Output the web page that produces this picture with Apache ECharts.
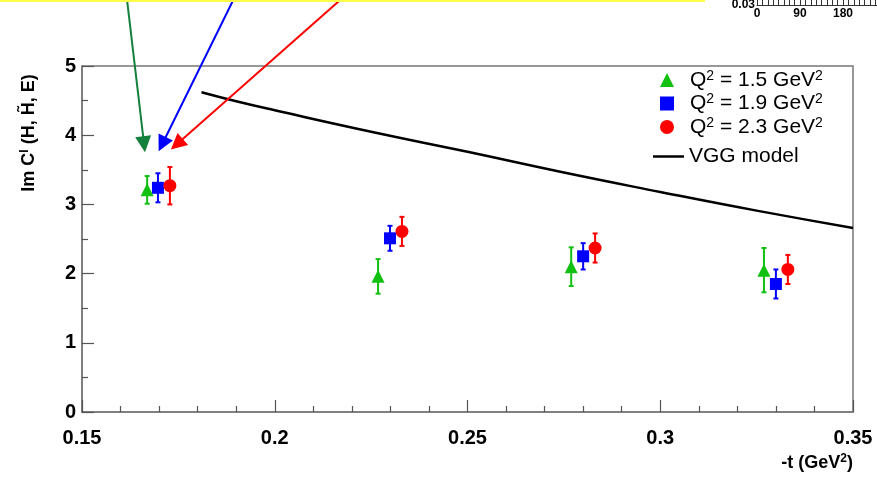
<!DOCTYPE html>
<html>
<head>
<meta charset="utf-8">
<script src="https://cdn.jsdelivr.net/npm/echarts@6/dist/echarts.min.js"></script>
<style>
  html, body { margin: 0; padding: 0; background: #fff; }
  #chart { width: 877px; height: 484px; }
</style>
</head>
<body>
<div id="chart"></div>
<script>
// -t values (GeV^2), Im C^I values and their uncertainties for each Q^2 setting
const tQ15 = [0.1669, 0.2268, 0.2769, 0.3269];
const imQ15 = [3.21, 1.96, 2.10, 2.05];
const errQ15 = [0.20, 0.25, 0.28, 0.32];

const tQ19 = [0.1697, 0.2299, 0.2800, 0.3300];
const imQ19 = [3.24, 2.51, 2.25, 1.85];
const errQ19 = [0.21, 0.18, 0.19, 0.21];

const tQ23 = [0.1728, 0.2330, 0.2831, 0.3331];
const imQ23 = [3.27, 2.61, 2.37, 2.06];
const errQ23 = [0.27, 0.21, 0.21, 0.21];

// VGG model curve
const tVGG = [0.181, 0.19, 0.20, 0.225, 0.25, 0.275, 0.30, 0.325, 0.35];
const imVGG = [4.62, 4.49, 4.36, 4.05, 3.76, 3.46, 3.18, 2.91, 2.66];

// Q^2 values shown in the legend
const q2Labels = ['1.5', '1.9', '2.3'];

// Axis tick values
const xTicks = [0.15, 0.2, 0.25, 0.3, 0.35];
const yTicks = [0, 1, 2, 3, 4, 5];

// Annotation arrows pointing at the first t bin (start and tip in data units)
const arrowStarts = [[0.1617, 5.95], [0.1892, 5.95], [0.2169, 5.95]];
const arrowTips = [[0.1661, 3.87], [0.1708, 3.87], [0.1746, 3.87]];
const arrowColors = ['#13803b', '#0000ff', '#ff0000'];

const FONT = 'Liberation Sans';
const GREEN = '#11c011';
const BLUE = '#0000ff';
const RED = '#ff0000';

function pairs(xs, ys) { return xs.map((x, i) => [x, ys[i]]); }
function triples(xs, ys, es) { return xs.map((x, i) => [x, ys[i], es[i]]); }

function errorBarSeries(data, color) {
  return {
    type: 'custom',
    xAxisIndex: 0, yAxisIndex: 0,
    data: data,
    z: 3,
    renderItem: function (params, api) {
      const x = api.value(0), y = api.value(1), e = api.value(2);
      const lo = api.coord([x, y - e]);
      const hi = api.coord([x, y + e]);
      const cw = 2.5;
      const st = { stroke: color, lineWidth: 2 };
      return {
        type: 'group',
        children: [
          { type: 'line', shape: { x1: lo[0], y1: lo[1], x2: hi[0], y2: hi[1] }, style: st },
          { type: 'line', shape: { x1: lo[0] - cw, y1: lo[1], x2: lo[0] + cw, y2: lo[1] }, style: st },
          { type: 'line', shape: { x1: hi[0] - cw, y1: hi[1], x2: hi[0] + cw, y2: hi[1] }, style: st }
        ]
      };
    }
  };
}

const q2Names = q2Labels.map(v => 'Q2 = ' + v + ' GeV2');

const chart = echarts.init(document.getElementById('chart'), null, { renderer: 'canvas' });

const titleRich = {
  b: { fontFamily: FONT, fontWeight: 'bold', fontSize: 18, fill: '#000', lineHeight: 20 },
  s: { fontFamily: FONT, fontWeight: 'bold', fontSize: 12, fill: '#000', lineHeight: 12, verticalAlign: 'top' }
};

const option = {
  backgroundColor: '#ffffff',
  animation: false,
  textStyle: { fontFamily: FONT },
  grid: [
    {
      left: 82, right: 24, top: 66, bottom: 72,
      outerBoundsMode: 'none',
      show: true, borderColor: '#777777', borderWidth: 1.5, backgroundColor: 'transparent'
    },
    {
      // partial inset panel at the upper right edge
      left: 757, width: 172, top: -60, height: 65,
      outerBoundsMode: 'none',
      show: false
    }
  ],
  xAxis: [
    {
      gridIndex: 0, type: 'value', min: xTicks[0], max: xTicks[xTicks.length - 1], interval: 0.05,
      axisLine: { show: true, onZero: false, lineStyle: { color: '#777777', width: 1.5 } },
      axisTick: { show: true, inside: true, length: 12, lineStyle: { color: '#555555', width: 1.2 } },
      minorTick: { show: true, splitNumber: 5, length: 6, lineStyle: { color: '#555555', width: 1.2 } },
      splitLine: { show: false },
      axisLabel: {
        color: '#000', fontFamily: FONT, fontWeight: 'bold', fontSize: 20, margin: 16,
        formatter: v => String(+v.toFixed(2))
      }
    },
    {
      gridIndex: 1, type: 'value', min: 0, max: 360, interval: 90,
      axisLine: { show: true, onZero: false, lineStyle: { color: '#333', width: 1 } },
      axisTick: { show: true, inside: true, length: 5, lineStyle: { color: '#333', width: 1 } },
      minorTick: { show: true, splitNumber: 8, length: 5, lineStyle: { color: '#333', width: 1 } },
      splitLine: { show: false },
      axisLabel: {
        color: '#000', fontFamily: FONT, fontWeight: 'bold', fontSize: 12, margin: 3,
        formatter: v => (v <= 180 ? String(v) : '')
      }
    }
  ],
  yAxis: [
    {
      gridIndex: 0, type: 'value', min: yTicks[0], max: yTicks[yTicks.length - 1], interval: 1,
      axisLine: { show: true, onZero: false, lineStyle: { color: '#777777', width: 1.5 } },
      axisTick: { show: true, inside: true, length: 12, lineStyle: { color: '#555555', width: 1.2 } },
      minorTick: { show: true, splitNumber: 2, length: 6, lineStyle: { color: '#555555', width: 1.2 } },
      splitLine: { show: false },
      axisLabel: { color: '#000', fontFamily: FONT, fontWeight: 'bold', fontSize: 20, margin: 6 }
    },
    {
      gridIndex: 1, type: 'value', min: 0.03, max: 0.06, interval: 0.01,
      axisLine: { show: true, onZero: false, lineStyle: { color: '#333', width: 1 } },
      axisTick: { show: false },
      splitLine: { show: false },
      axisLabel: {
        color: '#000', fontFamily: FONT, fontWeight: 'bold', fontSize: 12, margin: 2,
        formatter: v => v.toFixed(2)
      }
    }
  ],
  legend: [
    {
      orient: 'vertical', left: 660, top: 69, padding: 0,
      itemWidth: 14, itemHeight: 14, itemGap: 2,
      data: [
        { name: q2Names[0], icon: 'triangle', itemStyle: { color: GREEN } },
        { name: q2Names[1], icon: 'rect', itemStyle: { color: BLUE } },
        { name: q2Names[2], icon: 'circle', itemStyle: { color: RED } }
      ],
      formatter: function (name) {
        const v = name.replace('Q2 = ', '').replace(' GeV2', '');
        return '{a|Q}{s|2}{a| = ' + v + ' GeV}{s|2}';
      },
      textStyle: {
        color: '#000', fontFamily: FONT, fontSize: 21, padding: [0, 0, 0, 11],
        rich: {
          a: { fontSize: 21, fontFamily: FONT, color: '#000', lineHeight: 22 },
          s: { fontSize: 14, fontFamily: FONT, color: '#000', lineHeight: 12, verticalAlign: 'top' }
        }
      }
    },
    {
      orient: 'vertical', left: 653, top: 146, padding: 0,
      itemWidth: 31, itemHeight: 2.5,
      data: [{ name: 'VGG model', icon: 'rect', itemStyle: { color: '#000' } }],
      textStyle: { color: '#000', fontFamily: FONT, fontSize: 21 }
    }
  ],
  series: [
    {
      name: 'VGG model', type: 'line', xAxisIndex: 0, yAxisIndex: 0,
      data: pairs(tVGG, imVGG), smooth: true, symbol: 'none', showSymbol: false,
      lineStyle: { color: '#000', width: 2.5 }, itemStyle: { color: '#000' }, z: 2
    },
    errorBarSeries(triples(tQ15, imQ15, errQ15), GREEN),
    errorBarSeries(triples(tQ19, imQ19, errQ19), BLUE),
    errorBarSeries(triples(tQ23, imQ23, errQ23), RED),
    {
      name: q2Names[0], type: 'scatter', xAxisIndex: 0, yAxisIndex: 0,
      data: pairs(tQ15, imQ15), symbol: 'triangle', symbolSize: 13,
      itemStyle: { color: GREEN, opacity: 1 }, z: 4
    },
    {
      name: q2Names[1], type: 'scatter', xAxisIndex: 0, yAxisIndex: 0,
      data: pairs(tQ19, imQ19), symbol: 'rect', symbolSize: 12,
      itemStyle: { color: BLUE, opacity: 1 }, z: 4
    },
    {
      name: q2Names[2], type: 'scatter', xAxisIndex: 0, yAxisIndex: 0,
      data: pairs(tQ23, imQ23), symbol: 'circle', symbolSize: 13,
      itemStyle: { color: RED, opacity: 1 }, z: 4
    },
    {
      type: 'lines', coordinateSystem: 'cartesian2d', xAxisIndex: 0, yAxisIndex: 0,
      clip: false, z: 5, silent: true,
      symbol: ['none', 'triangle'], symbolSize: [0, 16],
      data: arrowStarts.map((s, i) => ({
        coords: [s, arrowTips[i]],
        lineStyle: { color: arrowColors[i], width: 2, opacity: 1 }
      })),
      lineStyle: { width: 2, opacity: 1, curveness: 0 }
    }
  ],
  graphic: [
    {
      type: 'rect', left: 0, top: 0, z: 10,
      shape: { x: 0, y: 0, width: 705, height: 2 },
      style: { fill: '#ffff4a' }
    },
    {
      type: 'text', z: 10,
      x: 29, y: 133, rotation: Math.PI / 2,
      style: {
        text: '{b|Im C}{s|I}{b| (H, H\u0303, E)}',
        align: 'center', verticalAlign: 'middle',
        rich: titleRich
      }
    },
    {
      type: 'text', z: 10,
      x: 853, y: 463,
      style: {
        text: '{b|-t (GeV}{s|2}{b|)}',
        align: 'right', verticalAlign: 'middle',
        rich: titleRich
      }
    }
  ]
};

chart.setOption(option);
</script>
</body>
</html>
